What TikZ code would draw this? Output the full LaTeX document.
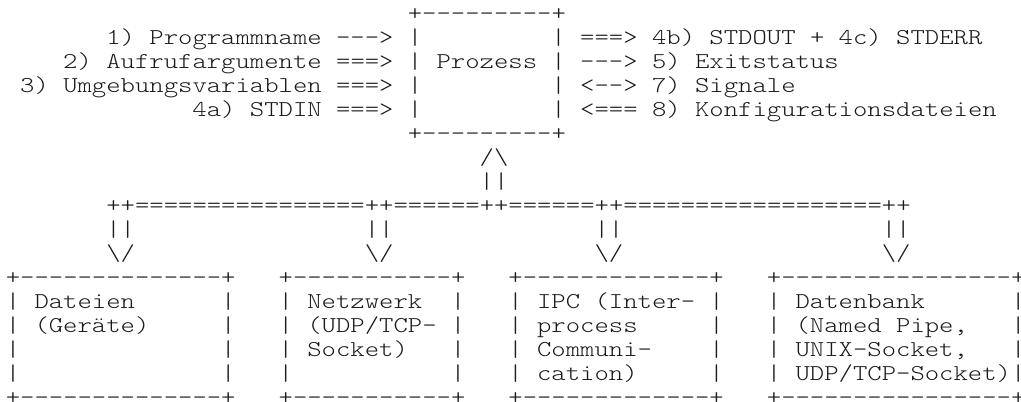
\documentclass[tikz,border=0pt]{standalone}
\usepackage{graphicx}

% monospaced character grid (units are pixels, y grows downwards)
\newcommand\colw{14.36}
\newcommand\colx{5.8}
\newcommand\rowy{21}
\newcommand\rowh{24}
\newcommand\gridfont{\fontfamily{lmtt}\fontseries{l}\fontsize{17pt}{18pt}\selectfont\frenchspacing}
\definecolor{ink}{HTML}{1A1A1A}

\tikzset{
  asc/.style={anchor=base west, inner sep=0pt, outer sep=0pt, text=ink, font=\gridfont}
}
% \cell{name}{column}{row}{text}
\newcommand\cell[4]{\node[asc] (#1) at ({\colx+\colw*(#2)},{\rowy+\rowh*(#3)}) {\scalebox{1.207}[1]{#4}};}
\newcommand\bs{\textbackslash}

\begin{document}
\begin{tikzpicture}[x=0.75pt, y=-0.75pt]
\useasboundingbox (0,0) rectangle (1021,402);

% the process box
\cell{ptop}{28}{0}{+---------+}
\foreach \r in {1,...,4} {
  \cell{pl\r}{28}{\r}{|}
  \cell{pr\r}{38}{\r}{|}
}
\cell{pname}{30}{2}{Prozess}
\cell{pbot}{28}{5}{+---------+}

% inputs
\cell{in1}{7}{1}{1) Programmname --->}
\cell{in2}{4}{2}{2) Aufrufargumente ===>}
\cell{in3}{1}{3}{3) Umgebungsvariablen ===>}
\cell{in4}{13}{4}{4a) STDIN ===>}

% outputs
\cell{out1}{40}{1}{===> 4b) STDOUT + 4c) STDERR}
\cell{out2}{40}{2}{---> 5) Exitstatus}
\cell{out3}{40}{3}{<--> 7) Signale}
\cell{out4}{40}{4}{<=== 8) Konfigurationsdateien}

% link from the process down to the bus
\cell{up1}{33}{6}{/\bs}
\cell{up2}{33}{7}{||}
\cell{bus}{7}{8}{++================++======++======++==================++}
\foreach \c [count=\i] in {7,25,41,61} {
  \cell{dn\i a}{\c}{9}{||}
  \cell{dn\i b}{\c}{10}{\bs/}
}

% resource boxes: column of left edge, column of right edge
\cell{b1top}{0}{11}{+--------------+}
\cell{b1bot}{0}{16}{+--------------+}
\cell{b2top}{19}{11}{+-----------+}
\cell{b2bot}{19}{16}{+-----------+}
\cell{b3top}{35}{11}{+-------------+}
\cell{b3bot}{35}{16}{+-------------+}
\cell{b4top}{53}{11}{+----------------+}
\cell{b4bot}{53}{16}{+----------------+}
\foreach \l/\rr [count=\i] in {0/15,19/31,35/49,53/70} {
  \foreach \r in {12,...,15} {
    \cell{b\i l\r}{\l}{\r}{|}
    \cell{b\i r\r}{\rr}{\r}{|}
  }
}

\cell{t11}{2}{12}{Dateien}
\cell{t12}{2}{13}{(Geräte)}

\cell{t21}{21}{12}{Netzwerk}
\cell{t22}{21}{13}{(UDP/TCP-}
\cell{t23}{21}{14}{Socket)}

\cell{t31}{37}{12}{IPC (Inter-}
\cell{t32}{37}{13}{process}
\cell{t33}{37}{14}{Communi-}
\cell{t34}{37}{15}{cation)}

\cell{t41}{55}{12}{Datenbank}
\cell{t42}{55}{13}{(Named Pipe,}
\cell{t43}{55}{14}{UNIX-Socket,}
\cell{t44}{55}{15}{UDP/TCP-Socket)}
\end{tikzpicture}
\end{document}
